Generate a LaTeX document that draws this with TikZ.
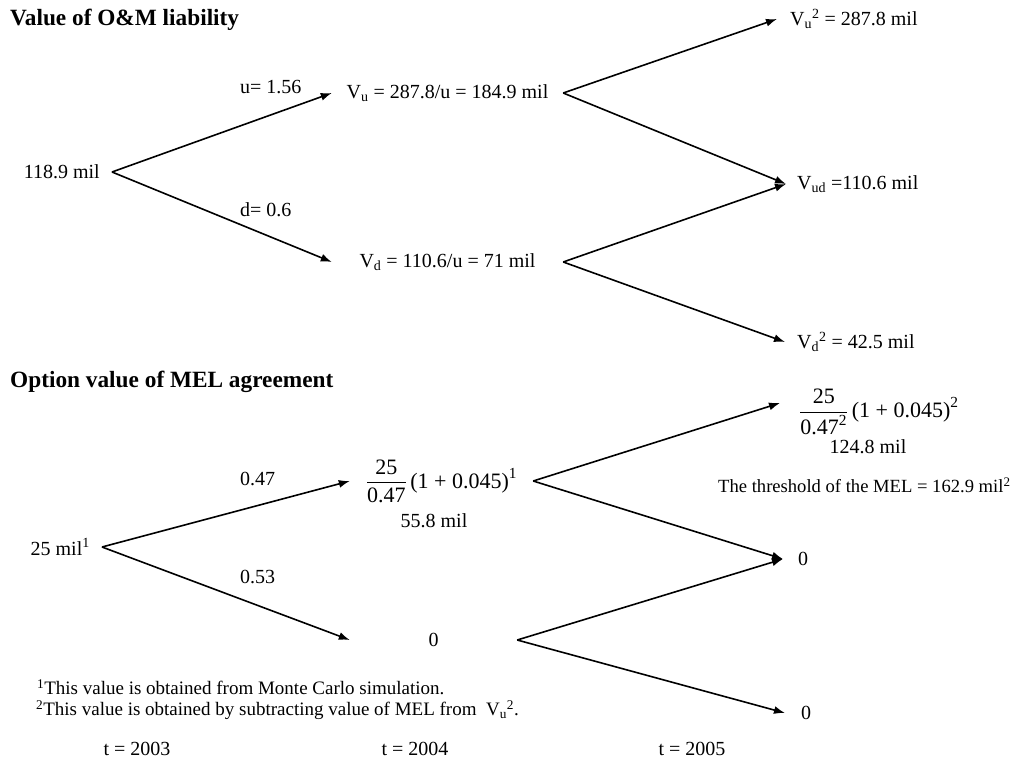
\documentclass[tikz,border=0pt]{standalone}
\usepackage{amsmath}
\usepackage{fontspec}
\setmainfont{Liberation Serif}
\usetikzlibrary{arrows.meta}
\begin{document}
\begin{tikzpicture}[x=1pt,y=-1pt,
  txt/.style={font=\fontsize{20}{24}\selectfont, inner sep=0pt},
  mth/.style={font=\fontsize{22}{26}\selectfont, inner sep=0pt},
  head/.style={font=\fontsize{23.3}{28}\selectfont\bfseries, inner sep=0pt, anchor=west},
  foot/.style={font=\fontsize{19}{23}\selectfont, inner sep=0pt, anchor=west},
  br/.style={line width=1.6pt},
  arr/.style={br, -{Latex[length=11pt,width=8pt]}},
]
\useasboundingbox (0,0) rectangle (1019,759);

% ---------- upper tree ----------
\node[head] (h1) at (10,20) {Value of O\&M liability};
\node[txt, anchor=east, inner xsep=12pt] (a) at (112,172) {118.9 mil};
\node[txt, minimum width=231pt] (vu) at (447.5,93) {V\textsubscript{u} = 287.8/u = 184.9 mil};
\node[txt, minimum width=231pt] (vd) at (447.5,262) {V\textsubscript{d} = 110.6/u = 71 mil};
\node[txt, anchor=west, inner xsep=13pt] (vuu) at (777,19) {V\textsubscript{u}\textsuperscript{2} = 287.8 mil};
\node[txt, anchor=west, inner xsep=11pt] (vud) at (786,184) {V\textsubscript{ud} =110.6 mil};
\node[txt, anchor=west, inner xsep=12pt] (vdd) at (785,342) {V\textsubscript{d}\textsuperscript{2} = 42.5 mil};
\node[txt, anchor=west] (lu) at (240,87) {u= 1.56};
\node[txt, anchor=west] (ld) at (240,210) {d= 0.6};

\draw[arr] (a.east) -- (vu.west);
\draw[arr] (a.east) -- (vd.west);
\draw[arr] (vu.east) -- (vuu.west);
\draw[arr] (vu.east) -- (vud.west);
\draw[arr] (vd.east) -- (vud.west);
\draw[arr] (vd.east) -- (vdd.west);

% ---------- lower tree ----------
\node[head] (h2) at (10,382) {Option value of MEL agreement};
\node[txt, anchor=east, inner xsep=12pt] (b) at (102,547) {25 mil\textsuperscript{1}};
\node[mth, minimum width=183pt] (c) at (441.5,481) {$\dfrac{\text{25}}{\text{0.47}}\,\text{(1 + 0.045)}^{\text{1}}$};
\node[txt] (c2) at (434,521) {55.8 mil};
\node[txt, minimum width=167pt] (d) at (433.5,640) {0};
\node[mth, anchor=west, inner xsep=19pt] (e) at (780,412) {$\dfrac{\text{25}}{\text{0.47}^{\text{2}}}\,\text{(1 + 0.045)}^{\text{2}}$};
\node[txt] (e2) at (868,447) {124.8 mil};
\node[txt, font=\fontsize{18.6}{22}\selectfont, anchor=west] (thr) at (718,485) {The threshold of the MEL = 162.9 mil\textsuperscript{2}};
\node[txt, anchor=west, inner xsep=15pt] (f) at (783,559) {0};
\node[txt, anchor=west, inner xsep=16pt] (g) at (785,713) {0};
\node[txt, anchor=west] (l47) at (240,479) {0.47};
\node[txt, anchor=west] (l53) at (240,577) {0.53};

\draw[arr] (b.east) -- (c.west);
\draw[arr] (b.east) -- (d.west);
\draw[arr] (c.east) -- ([yshift=9pt]e.west);
\draw[arr] (c.east) -- (f.west);
\draw[arr] (d.east) -- (f.west);
\draw[arr] (d.east) -- (g.west);

% ---------- footnotes and time axis ----------
\node[foot] (fn1) at (37,687) {\textsuperscript{1}This value is obtained from Monte Carlo simulation.};
\node[foot] (fn2) at (36,710) {\textsuperscript{2}This value is obtained by subtracting value of MEL from\ \ V\textsubscript{u}\textsuperscript{2}.};
\node[txt] (t1) at (137,749) {t = 2003};
\node[txt] (t2) at (415,749) {t = 2004};
\node[txt] (t3) at (692,749) {t = 2005};
\end{tikzpicture}
\end{document}
